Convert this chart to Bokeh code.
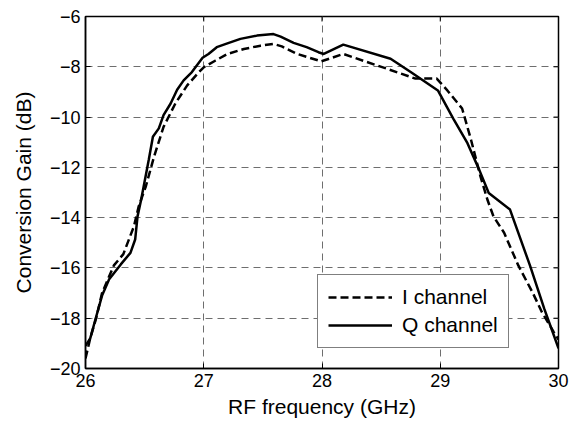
import math
from bokeh.plotting import figure
from bokeh.models import Range1d, Legend, LegendItem, FixedTicker
from bokeh.embed import file_html
from bokeh.resources import INLINE

# Q channel (solid)
freq_q = [26.0, 26.04, 26.085, 26.14, 26.2, 26.3, 26.38, 26.42, 26.44, 26.47, 26.535, 26.57,
          26.62, 26.66, 26.72, 26.775, 26.83, 26.9, 26.99, 27.04, 27.11, 27.2, 27.31, 27.45,
          27.59, 27.65, 27.76, 27.87, 27.97, 28.015, 28.18, 28.58, 28.75, 28.98, 29.11, 29.23,
          29.33, 29.41, 29.59, 29.76, 29.88, 30.0]
gain_q = [-19.1, -18.8, -18.03, -17.1, -16.45, -15.85, -15.4, -14.87, -13.95, -13.3, -11.7, -10.78,
          -10.45, -9.92, -9.46, -8.91, -8.54, -8.21, -7.64, -7.49, -7.22, -7.07, -6.89, -6.76,
          -6.70, -6.8, -7.05, -7.22, -7.42, -7.49, -7.12, -7.68, -8.21, -8.94, -10.06, -11.04,
          -12.1, -13.02, -13.68, -15.92, -17.63, -19.2]

# I channel (dashed)
freq_i = [26.0, 26.04, 26.09, 26.14, 26.24, 26.32, 26.41, 26.45, 26.51, 26.58, 26.66, 26.76,
          26.86, 26.96, 27.0, 27.1, 27.2, 27.34, 27.48, 27.59, 27.66, 27.79, 27.97, 27.99,
          28.18, 28.55, 28.79, 28.97, 29.06, 29.185, 29.26, 29.34, 29.4, 29.45, 29.54, 29.66,
          29.78, 29.86, 29.96, 30.0]
gain_i = [-19.6, -18.8, -18.0, -17.0, -15.9, -15.45, -14.34, -13.55, -12.76, -11.57, -10.39, -9.46,
          -8.74, -8.21, -8.02, -7.75, -7.49, -7.29, -7.16, -7.09, -7.19, -7.49, -7.75, -7.79,
          -7.49, -8.08, -8.47, -8.47, -8.94, -9.66, -10.9, -12.36, -13.3, -13.95, -14.6, -15.9,
          -16.97, -17.76, -18.55, -18.85]

x_ticks = [26, 27, 28, 29, 30]
y_ticks = [-20, -18, -16, -14, -12, -10, -8, -6]
x_title = "RF frequency (GHz)"
y_title = "Conversion Gain (dB)"
labels = ["I channel", "Q channel"]

FONT = "Liberation Sans"
X0, X1, Y0, Y1 = x_ticks[0], x_ticks[-1], y_ticks[0], y_ticks[-1]

p = figure(width=571, height=420, output_backend="svg", toolbar_location=None,
           x_range=Range1d(X0, X1), y_range=Range1d(Y0, Y1),
           min_border_left=85, min_border_right=13, min_border_top=16, min_border_bottom=50)
p.background_fill_color = "white"
p.border_fill_color = "white"
p.outline_line_color = "black"
p.outline_line_width = 1.5

for ax in p.axis:
    is_x = ax in p.xaxis
    ax.ticker = FixedTicker(ticks=x_ticks if is_x else y_ticks)
    ax.minor_tick_line_color = None
    ax.major_tick_in = 5
    ax.major_tick_out = 0
    ax.axis_line_color = "black"
    ax.axis_line_width = 1.5
    ax.major_tick_line_width = 1
    ax.major_label_text_font = FONT
    ax.major_label_text_font_size = "18px"
    ax.major_label_text_color = "black"
    ax.axis_label_text_font = FONT
    ax.axis_label_text_font_size = "21px"
    ax.axis_label_text_font_style = "normal"
    ax.axis_label_text_color = "black"

p.xaxis.axis_label = x_title
p.yaxis.axis_label = y_title
p.xaxis.major_label_standoff = 5
p.xaxis.axis_label_standoff = 5
p.yaxis.major_label_standoff = 5
p.yaxis.axis_label_standoff = 12

for g in (p.xgrid[0], p.ygrid[0]):
    g.grid_line_color = "#6e6e6e"
    g.grid_line_dash = "7 5"
    g.grid_line_width = 1
p.xgrid.ticker = FixedTicker(ticks=x_ticks)
p.ygrid.ticker = FixedTicker(ticks=y_ticks)

# inward ticks on the top and right edges of the box
p.ray(x=x_ticks, y=[Y1] * len(x_ticks), length=5, length_units="screen",
      angle=-math.pi / 2, line_color="black", line_width=1)
p.ray(x=[X1] * len(y_ticks), y=y_ticks, length=5, length_units="screen",
      angle=math.pi, line_color="black", line_width=1)

r_i = p.line(freq_i, gain_i, line_color="black", line_width=2.5, line_dash="8 4")
r_q = p.line(freq_q, gain_q, line_color="black", line_width=2.5)

legend = Legend(items=[LegendItem(label=labels[0], renderers=[r_i]),
                       LegendItem(label=labels[1], renderers=[r_q])],
                location=(232, 20))
legend.label_text_font = FONT
legend.label_text_font_size = "21px"
legend.label_text_color = "black"
legend.glyph_width = 64
legend.glyph_height = 20
legend.label_height = 20
legend.label_standoff = 10
legend.spacing = 4
legend.padding = 10
legend.margin = 0
legend.border_line_color = "black"
legend.border_line_width = 1
legend.background_fill_alpha = 1
p.add_layout(legend, "center")

open("out.html", "w").write(file_html(p, INLINE))
